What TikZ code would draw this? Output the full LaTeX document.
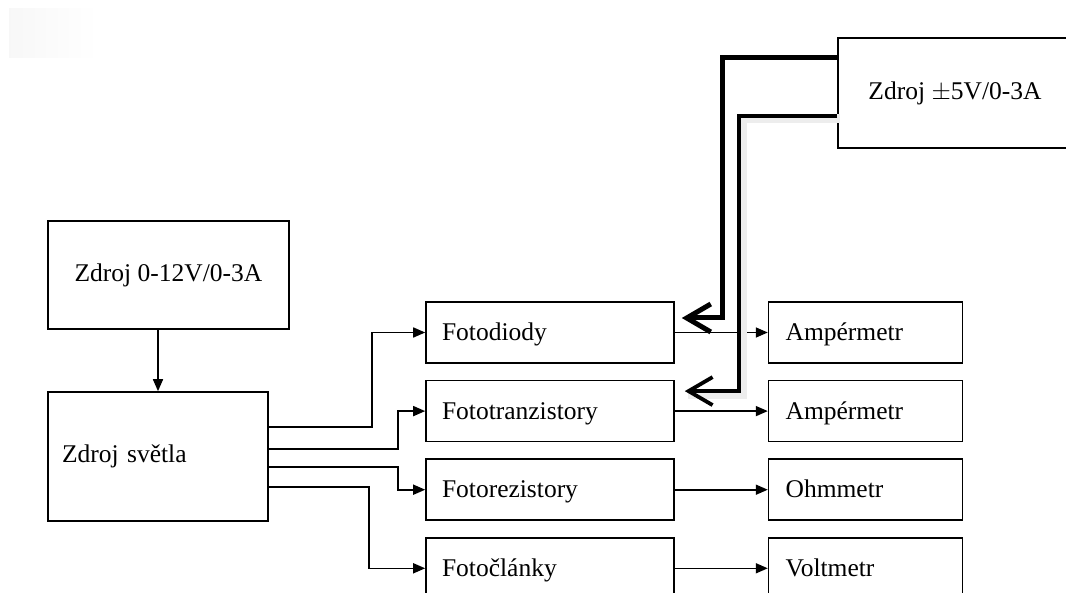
\documentclass[tikz,border=0pt]{standalone}
\usepackage{fontspec}
\setmainfont{Liberation Serif}
\usepackage{tikz}
\usetikzlibrary{matrix}
\usetikzlibrary{arrows.meta}
\tikzset{
box/.style={
  draw,
  rectangle,
  line width=1.6pt,
  font=\fontsize{25.5}{30}\selectfont
},
table/.style={
  matrix of nodes,
  row sep=16pt,
  column sep=93pt,
  inner sep=0pt,
  nodes={box,minimum height=61pt,align=left,text height=19pt,text depth=3pt,anchor=center},
  column 1/.style={nodes={text width=216pt,inner xsep=16pt}},
  column 2/.style={nodes={text width=160pt,inner xsep=17pt}},
},
feed/.style={line width=1.6pt,-{Triangle[length=12pt,width=10pt]}},
supply/.style={-{Straight Barb[length=24pt,width=28pt]}},
}

\begin{document}
\begin{tikzpicture}[x=1pt,y=1pt]
\useasboundingbox (0,0) rectangle (1066,-593);
\clip (0,0) rectangle (1066,-593);
\shade[left color=black!3,right color=white] (9,-9) rectangle (98,-58);
% the sources
\node[box,minimum width=234pt,minimum height=110pt] (src5) at (955,-93) {Zdroj $\pm$5V/0-3A};
\node[box,minimum width=241pt,minimum height=108pt] (src12) at (168.5,-275) {Zdroj 0-12V/0-3A};
\node[box,text width=192pt,inner xsep=14pt,minimum height=129pt,align=left] (svetla) at (158,-456.5) {Zdroj světla};
% the sensors and meters
\matrix (mat) [table,anchor=north west] at (425,-301)
{
Fotodiody & Ampérmetr \\
Fototranzistory & Ampérmetr \\
Fotorezistory & Ohmmetr \\
Fotočlánky & Voltmetr \\
};
% the arrows
\draw[feed] (src12.south -| svetla.north) -- (svetla.north);
\draw[feed] ([yshift=29.5pt]svetla.east) -- ++(103,0) |- (mat-1-1.west);
\draw[feed] ([yshift=7.5pt]svetla.east) -- ++(129,0) |- (mat-2-1.west);
\draw[feed] ([yshift=-10.5pt]svetla.east) -- ++(129,0) |- (mat-3-1.west);
\draw[feed] ([yshift=-30.5pt]svetla.east) -- ++(100,0) |- (mat-4-1.west);
\foreach \r in {1,...,4}
{
  \draw[feed] (mat-\r-1) -- (mat-\r-2);
}
% the supply lines
\draw[supply,line width=5pt,shorten >=7pt]
  ([yshift=35pt]src5.west) -- ++(-115,0) |- ([yshift=14.5pt]mat-1-1.east);
\draw[supply,line width=3.8pt,shorten >=10pt,
  preaction={draw=black!7,line width=9pt,-,transform canvas={xshift=3pt,yshift=-3pt}}]
  ([yshift=-23pt]src5.west) -- ++(-98,0) |- ([yshift=20pt]mat-2-1.east);
\end{tikzpicture}
\end{document}
